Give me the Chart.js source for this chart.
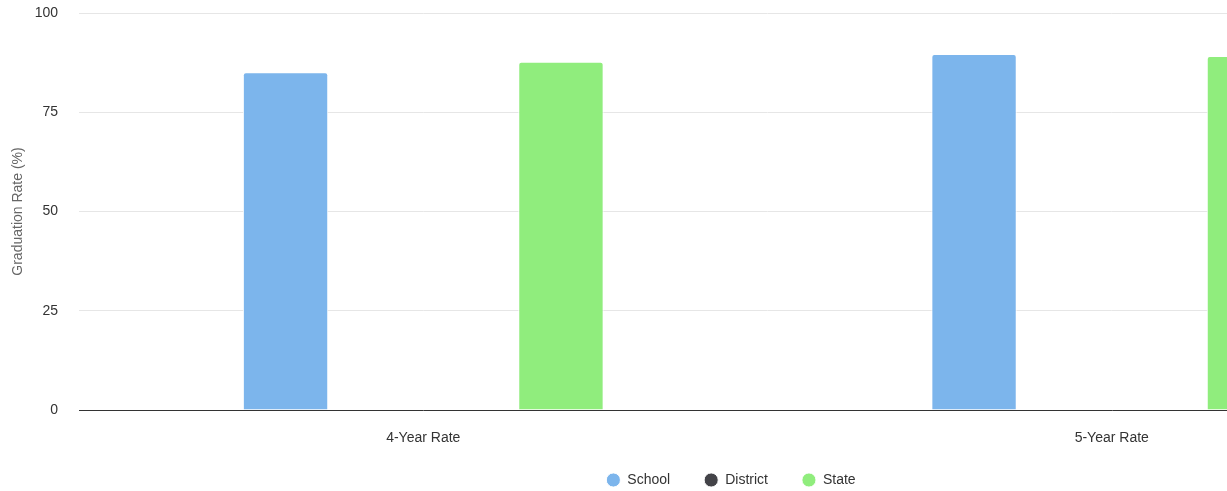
<!DOCTYPE html>
<html>
<head>
<meta charset="utf-8">
<script src="https://cdn.jsdelivr.net/npm/chart.js@4"></script>
<style>
  html, body { margin: 0; padding: 0; background: #fff; overflow: hidden; }
  #wrap { width: 1466px; height: 491px; position: relative; }
</style>
</head>
<body>
<div id="wrap"><canvas id="gradChart"></canvas></div>
<script>
// graduation rates by type
const categories = ['4-Year Rate', '5-Year Rate'];
const schoolRates = [85.1, 89.7];
const districtRates = [null, null];
const stateRates = [87.7, 89.2];
const yTicks = [0, 25, 50, 75, 100];

Chart.defaults.font.family = '"Liberation Sans", Arial, sans-serif';
Chart.defaults.font.size = 14;
Chart.defaults.color = '#333333';

const barStyle = {
    borderColor: '#ffffff',
    borderWidth: 1,
    borderRadius: { topLeft: 3, topRight: 3 },
    borderSkipped: 'start',
    categoryPercentage: 0.6,
    barPercentage: 0.62
};

// legend: shorter box, items drawn a bit higher
const legendPlace = {
    id: 'legendPlace',
    afterInit(chart) {
        const lg = chart.legend;
        const fit = lg.fit;
        lg.fit = function () {
            fit.call(this);
            this.height = 44;
        };
    },
    afterLayout(chart) {
        const lg = chart.legend;
        lg.top -= 8;
        lg.left += 3;
        lg.right += 3;
    }
};

const ctx = document.getElementById('gradChart');
const gradChart = new Chart(ctx, {
    type: 'bar',
    data: {
        labels: categories,
        datasets: [
            { label: 'School', data: schoolRates, backgroundColor: '#7cb5ec', ...barStyle },
            { label: 'District', data: districtRates, backgroundColor: '#434348', ...barStyle },
            { label: 'State', data: stateRates, backgroundColor: '#90ed7d', ...barStyle }
        ]
    },
    plugins: [legendPlace],
    options: {
        responsive: true,
        maintainAspectRatio: false,
        animation: false,
        layout: { padding: { left: 0, right: 10, top: 13, bottom: 0 } },
        plugins: {
            legend: {
                position: 'bottom',
                labels: {
                    usePointStyle: true,
                    pointStyle: 'circle',
                    boxWidth: 14,
                    boxHeight: 10,
                    padding: 34,
                    color: '#333333',
                    font: { size: 14 }
                }
            },
            tooltip: { enabled: false }
        },
        scales: {
            x: {
                grid: { display: false, drawTicks: false },
                border: { display: true, color: '#333333', width: 1 },
                ticks: { padding: 20, color: '#333333', maxRotation: 0 },
                afterFit: (axis) => { axis.height = 37; }
            },
            y: {
                min: 0,
                max: 100,
                afterBuildTicks: (axis) => { axis.ticks = yTicks.map(v => ({ value: v })); },
                afterFit: (axis) => {
                    axis.width = 79;
                    axis.paddingTop = 0;
                    axis.paddingBottom = 0;
                },
                grid: { color: '#e6e6e6', drawTicks: false },
                border: { display: false },
                ticks: { padding: 21, color: '#333333' },
                title: {
                    display: true,
                    text: 'Graduation Rate (%)',
                    color: '#666666',
                    font: { size: 14 },
                    padding: { top: 10, bottom: 0 }
                }
            }
        }
    }
});
</script>
</body>
</html>
